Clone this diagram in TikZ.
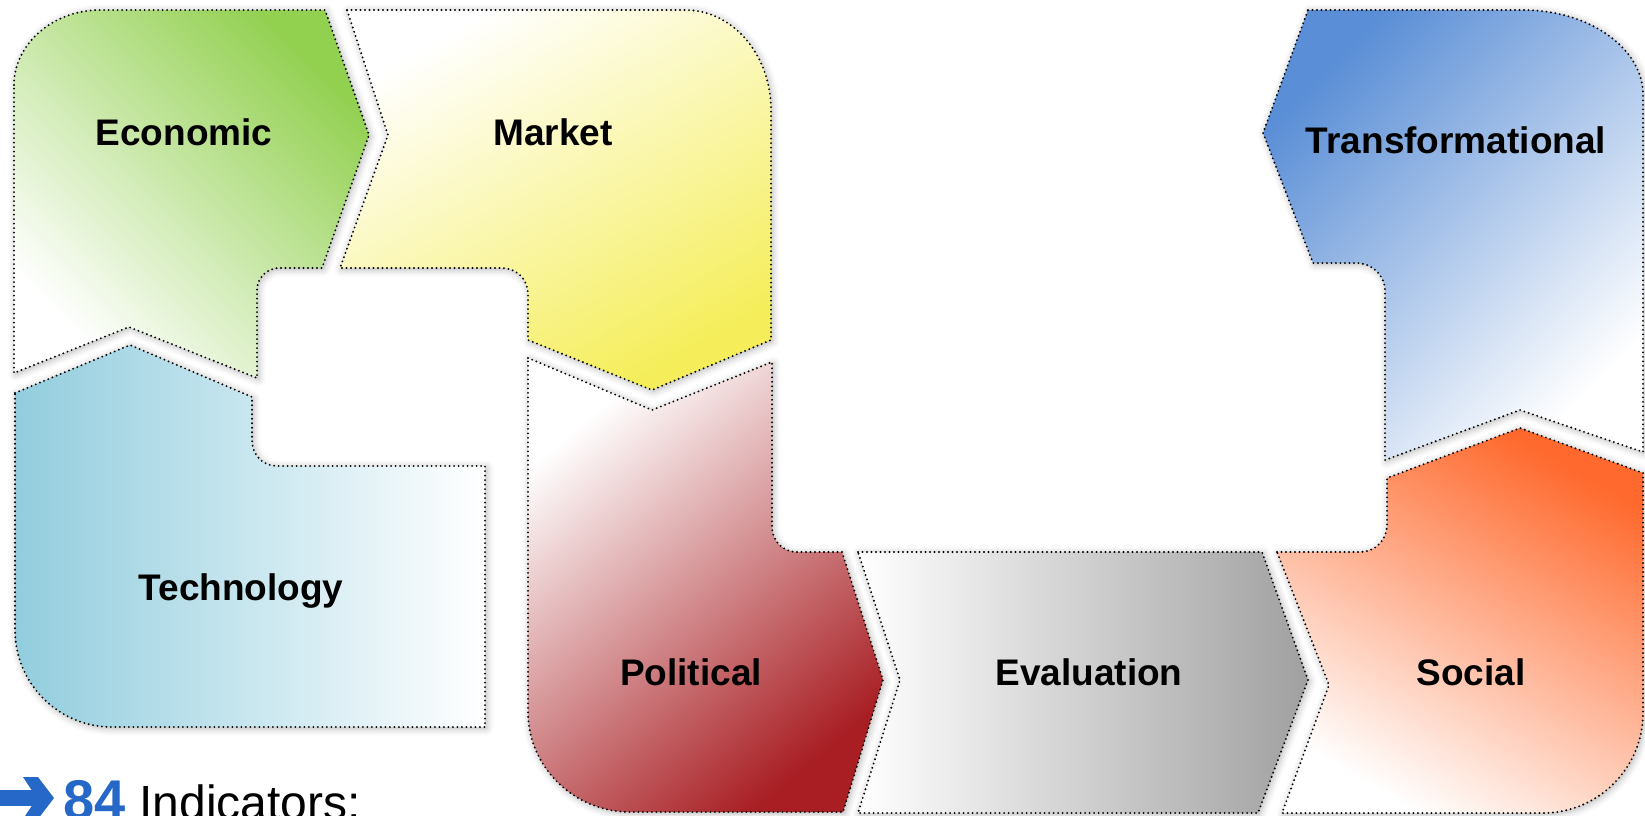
\documentclass[tikz,border=0pt]{standalone}
\usepackage{fontspec}
\setmainfont{Liberation Sans}
\usetikzlibrary{shadows.blur}
\definecolor{ecoG}{RGB}{146,208,80}
\definecolor{mktY}{RGB}{245,238,90}
\definecolor{tecB}{RGB}{146,205,222}
\definecolor{polR}{RGB}{168,30,35}
\definecolor{evaG}{RGB}{160,160,160}
\definecolor{socO}{RGB}{255,105,45}
\definecolor{trfB}{RGB}{90,142,214}
\definecolor{numB}{RGB}{38,104,200}
\begin{document}
\begin{tikzpicture}[x=1pt,y=-1pt,
  blk/.style={draw=black, line width=2.1pt, dash pattern=on 0pt off 4.5pt, line cap=round, line join=round,
    blur shadow={shadow xshift=1.5pt, shadow yshift=-1.5pt, shadow blur radius=7pt, shadow opacity=30}},
  lbl/.style={font=\fontsize{37}{44}\selectfont\bfseries, anchor=base, inner sep=0pt}]
\useasboundingbox (0,0) rectangle (1645,815);

% Economic
\path[blk, top color=ecoG, bottom color=white, shading angle=-45]
  (14,85) .. controls (14,44) and (53,10) .. (100,10) -- (325,10) -- (369,135) -- (322,268)
  -- (279,268) .. controls (267,268) and (257,278) .. (257,290) -- (257,378) -- (129,327) -- (14,373) -- cycle;
% Market
\path[blk, top color=white, bottom color=mktY, shading angle=30]
  (347,10) -- (685,10) .. controls (733,10) and (771,55) .. (771,110) -- (771,340) -- (652,390) -- (528,340)
  -- (528,294) .. controls (528,279) and (516,268) .. (502,268) -- (340,268) -- (388,135) -- cycle;
% Technology
\path[blk, left color=tecB, right color=white]
  (15,393) -- (130,345) -- (252,397) -- (252,440) .. controls (252,454) and (262,466) .. (277,466)
  -- (485,466) -- (485,727) -- (112,727) .. controls (58,727) and (15,683) .. (15,630) -- cycle;
% Political
\path[blk, top color=white, bottom color=polR, shading angle=40]
  (528,358) -- (652,410) -- (772,362) -- (772,527) .. controls (772,541) and (783,552) .. (797,552)
  -- (842,552) -- (883,680) -- (843,812) -- (630,812) .. controls (574,812) and (528,767) .. (528,712) -- cycle;
% Evaluation
\path[blk, left color=white, right color=evaG]
  (858,552) -- (1262,552) -- (1308,680) -- (1258,813) -- (858,813) -- (900,680) -- cycle;
% Social
\path[blk, top color=socO, bottom color=white, shading angle=-30]
  (1277,552) -- (1360,552) .. controls (1375,552) and (1387,540) .. (1387,525) -- (1387,478) -- (1520,428)
  -- (1643,473) -- (1643,713) .. controls (1643,768) and (1598,813) .. (1543,813) -- (1282,813) -- (1329,685) -- cycle;
% Transformational
\path[blk, top color=trfB, bottom color=white, shading angle=45]
  (1308,10) -- (1523,10) .. controls (1589,10) and (1643,48) .. (1643,95) -- (1643,452) -- (1520,410)
  -- (1385,460) -- (1385,291) .. controls (1385,275) and (1372,263) .. (1356,263) -- (1313,263) -- (1263,133) -- cycle;

\node[lbl] (eco) at (184,145) {Economic};
\node[lbl] (mkt) at (553,145) {Market};
\node[lbl] (tec) at (241,600) {Technology};
\node[lbl] (pol) at (691,685) {Political};
\node[lbl] (eva) at (1089,685) {Evaluation};
\node[lbl] (soc) at (1471,685) {Social};
\node[lbl] (trf) at (1456,153) {Transformational};

% arrow and indicator text
\fill[numB] (0,790) rectangle (40,806);
\fill[numB] (23,777) -- (38,777) -- (54,798) -- (38,819) -- (23,819) -- (37,798) -- cycle;
\node[anchor=base west, inner sep=0pt] (ind) at (63,819)
  {{\color{numB}\fontsize{56}{60}\selectfont\bfseries 84}\hspace{14pt}{\fontsize{48}{54}\selectfont Indicators:}};
\end{tikzpicture}
\end{document}
